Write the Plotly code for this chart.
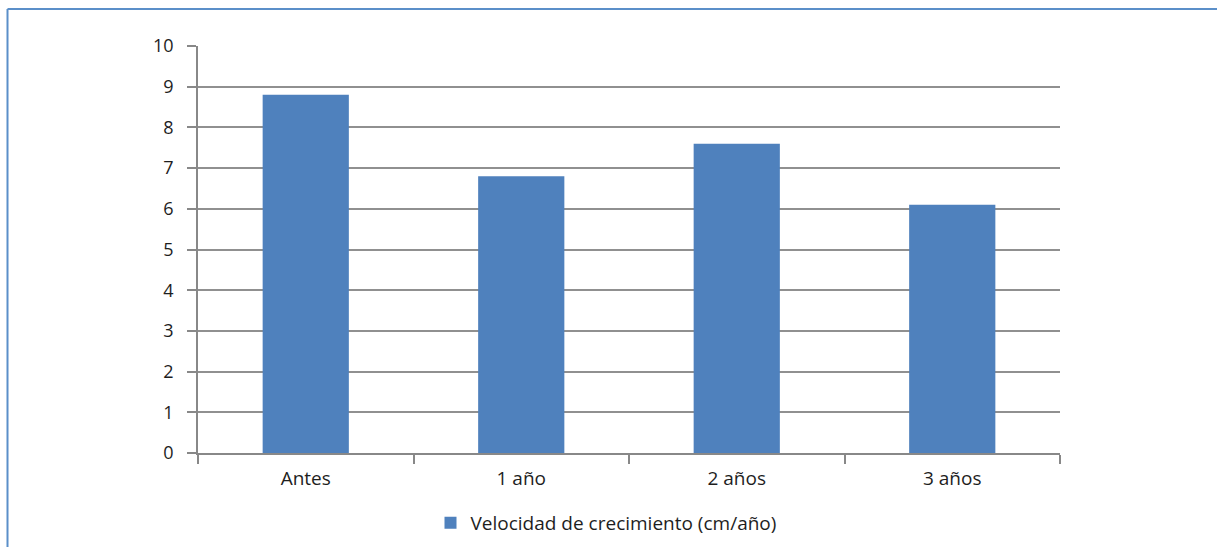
import plotly.graph_objects as go

categories = ["Antes", "1 año", "2 años", "3 años"]
values = [8.8, 6.8, 7.6, 6.1]
series_name = "Velocidad de crecimiento (cm/año)"
y_ticks = list(range(0, 11))

W, H = 1217, 547
L, R, T, B = 198, 1060, 46, 453

def px(x):
    return (x - L) / (R - L)

def py(y):
    return (B - y) / (B - T)

fig = go.Figure()
fig.add_trace(go.Bar(
    x=categories, y=values, name=series_name,
    marker=dict(color="#4f81bd", line=dict(width=0)),
    width=0.4, showlegend=True,
))

font = dict(family="Open Sans, Liberation Sans, sans-serif", size=19, color="#1e1e1e")

fig.update_layout(
    width=W, height=H,
    margin=dict(l=L, r=W - R, t=T, b=H - B, autoexpand=False),
    paper_bgcolor="white", plot_bgcolor="white",
    font=font,
    showlegend=True,
    legend=dict(orientation="h", xref="container", yref="container",
                x=606 / W, xanchor="center", y=(H - 523) / H, yanchor="middle",
                font=font, itemwidth=30),
    xaxis=dict(
        type="category", showgrid=False, showline=True, linecolor="#888888", linewidth=1.5,
        ticks="outside", ticklen=9, tickcolor="#888888", tickwidth=1.5,
        tickson="boundaries", range=[-0.5, 3.5], ticklabelstandoff=7,
    ),
    yaxis=dict(
        range=[0, 10], tickvals=y_ticks, showgrid=True, gridcolor="#909090", gridwidth=1.5,
        showline=True, linecolor="#888888", linewidth=1.5,
        ticks="outside", ticklen=9, tickcolor="#888888", tickwidth=1.5,
        zeroline=False, ticklabelstandoff=10, tickfont=dict(size=18),
    ),
    shapes=[
        dict(type="line", xref="paper", yref="paper", x0=px(7.5), x1=px(7.5), y0=py(548), y1=py(9),
             line=dict(color="#5b8fc9", width=2)),
        dict(type="line", xref="paper", yref="paper", x0=px(7.5), x1=px(1218), y0=py(9), y1=py(9),
             line=dict(color="#5b8fc9", width=2)),
    ],
)

fig.write_html("out.html")
